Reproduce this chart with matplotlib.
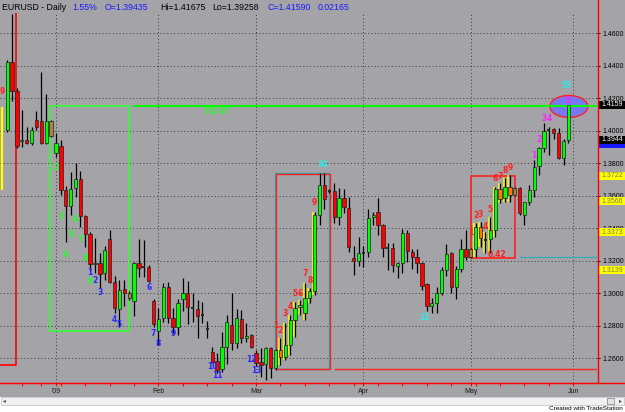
import matplotlib
matplotlib.use("Agg")
import matplotlib.pyplot as plt
from matplotlib.patches import Rectangle, Ellipse
from matplotlib.lines import Line2D

# EURUSD daily, bar 0 = 2 Jan 2009, negative bars = late Dec 2008
bar_idx = list(range(-11, 106))
opens = [1.3650, 1.4003, 1.4421, 1.4243, 1.3935, 1.3942, 1.3923, 1.4065, 1.4058, 1.3923, 1.4058,
         1.3862, 1.3905, 1.3634, 1.3535, 1.3646, 1.3702, 1.3474, 1.3363, 1.3178, 1.3185,
         1.3123, 1.3332, 1.3068, 1.2902, 1.3025, 1.3000, 1.2951, 1.3185, 1.3160, 1.3160,
         1.2951, 1.2766, 1.2846, 1.3037, 1.2846, 1.2791, 1.2963, 1.3000, 1.2905, 1.2902,
         1.2865, 1.2780, 1.2637, 1.2582, 1.2532, 1.2668, 1.2803, 1.2692, 1.2840, 1.2723,
         1.2742, 1.2631, 1.2575, 1.2563, 1.2662, 1.2538, 1.2649, 1.2606, 1.2680, 1.2834,
         1.2914, 1.2877, 1.2969, 1.3012, 1.3480, 1.3665, 1.3628, 1.3628, 1.3468, 1.3585,
         1.3523, 1.3215, 1.3197, 1.3246, 1.3252, 1.3468, 1.3498, 1.3418, 1.3277, 1.3277,
         1.3166, 1.3185, 1.3369, 1.3252, 1.3222, 1.3185, 1.3055, 1.2920, 1.2938, 1.3000,
         1.3142, 1.3246, 1.3037, 1.3148, 1.3271, 1.3222, 1.3271, 1.3406, 1.3326, 1.3332,
         1.3388, 1.3640, 1.3585, 1.3652, 1.3603, 1.3646, 1.3480, 1.3560, 1.3634, 1.3782,
         1.3892, 1.4003, 1.4009, 1.3985, 1.3831, 1.39435]
highs = [1.4145, 1.4434, 1.4720, 1.4260, 1.4126, 1.4022, 1.4022, 1.4120, 1.4360, 1.4225, 1.4062,
         1.3985, 1.3942, 1.3658, 1.3745, 1.3800, 1.3751, 1.3480, 1.3375, 1.3338, 1.3246,
         1.3289, 1.3388, 1.3105, 1.3080, 1.3080, 1.3010, 1.3190, 1.3332, 1.3326, 1.3172,
         1.2963, 1.2908, 1.3062, 1.3068, 1.2908, 1.2963, 1.3092, 1.3074, 1.3000, 1.2957,
         1.2945, 1.2828, 1.2668, 1.2631, 1.2760, 1.2865, 1.3000, 1.2902, 1.2895, 1.2815,
         1.2745, 1.2649, 1.2662, 1.2668, 1.2668, 1.2655, 1.2723, 1.2815, 1.2865, 1.2945,
         1.2957, 1.3062, 1.3031, 1.3498, 1.3738, 1.3738, 1.3640, 1.3677, 1.3646, 1.3640,
         1.3591, 1.3289, 1.3345, 1.3289, 1.3517, 1.3498, 1.3585, 1.3425, 1.3308, 1.3308,
         1.3191, 1.3394, 1.3388, 1.3271, 1.3271, 1.3191, 1.3062, 1.2969, 1.3037, 1.3160,
         1.3302, 1.3252, 1.3166, 1.3332, 1.3388, 1.3280, 1.3431, 1.3437, 1.3375, 1.3468,
         1.3652, 1.3677, 1.3708, 1.3726, 1.3652, 1.3652, 1.3563, 1.3665, 1.3818, 1.3898,
         1.4046, 1.4022, 1.4015, 1.4015, 1.3948, 1.41675]
lows = [1.3634, 1.3991, 1.4182, 1.3895, 1.3898, 1.3917, 1.3911, 1.4003, 1.3917, 1.3917, 1.3962,
        1.3837, 1.3603, 1.3314, 1.3480, 1.3591, 1.3406, 1.3283, 1.3135, 1.3123, 1.3031,
        1.3080, 1.3062, 1.2877, 1.2791, 1.2920, 1.2960, 1.2858, 1.3098, 1.3098, 1.3068,
        1.2791, 1.2680, 1.2822, 1.2815, 1.2748, 1.2742, 1.2889, 1.2809, 1.2822, 1.2723,
        1.2815, 1.2723, 1.2569, 1.2508, 1.2514, 1.2563, 1.2650, 1.2662, 1.2692, 1.2698,
        1.2662, 1.2551, 1.2483, 1.2465, 1.2477, 1.2526, 1.2557, 1.2588, 1.2618, 1.2729,
        1.2865, 1.2834, 1.2938, 1.2988, 1.3418, 1.3517, 1.3615, 1.3431, 1.3418, 1.3492,
        1.3252, 1.3111, 1.3166, 1.3160, 1.3222, 1.3418, 1.3357, 1.3222, 1.3142, 1.3129,
        1.3092, 1.3123, 1.3191, 1.3148, 1.3123, 1.3018, 1.2889, 1.2877, 1.2877, 1.2988,
        1.3105, 1.3000, 1.2963, 1.3129, 1.3203, 1.3215, 1.3222, 1.3283, 1.3246, 1.3246,
        1.3345, 1.3554, 1.3560, 1.3560, 1.3597, 1.3480, 1.3418, 1.3542, 1.3591, 1.3726,
        1.3868, 1.3849, 1.3948, 1.3825, 1.3788, 1.39258]
closes = [1.4010, 1.4421, 1.4243, 1.3905, 1.3942, 1.3923, 1.4003, 1.4022, 1.3923, 1.4058, 1.3966,
          1.3923, 1.3634, 1.3535, 1.3640, 1.3702, 1.3474, 1.3363, 1.3178, 1.3185, 1.3117,
          1.3265, 1.3068, 1.2908, 1.3018, 1.3000, 1.2969, 1.3185, 1.3154, 1.3166, 1.3074,
          1.2809, 1.2840, 1.3037, 1.2846, 1.2791, 1.2938, 1.3000, 1.2914, 1.2908, 1.2858,
          1.2860, 1.2778, 1.2575, 1.2526, 1.2668, 1.2822, 1.2692, 1.2846, 1.2723, 1.2735,
          1.2668, 1.2569, 1.2557, 1.2662, 1.2538, 1.2649, 1.2606, 1.2680, 1.2834, 1.2908,
          1.2926, 1.2969, 1.3012, 1.3480, 1.3665, 1.3579, 1.3630, 1.3468, 1.3585, 1.3529,
          1.3283, 1.3197, 1.3246, 1.3252, 1.3462, 1.3480, 1.3418, 1.3277, 1.3280, 1.3172,
          1.3185, 1.3369, 1.3258, 1.3222, 1.3185, 1.3043, 1.2920, 1.2938, 1.3000, 1.3142,
          1.3240, 1.3037, 1.3148, 1.3271, 1.3222, 1.3271, 1.3406, 1.3338, 1.3332, 1.3388,
          1.3640, 1.3579, 1.3652, 1.3603, 1.3646, 1.3492, 1.3560, 1.3634, 1.3775, 1.3892,
          1.3997, 1.4009, 1.3985, 1.3831, 1.3935, 1.41590]

yellow_bars = [46, 47, 48, 49, 50, 51, 52, 53, 86, 87, 88, 89, 90, 91, 92, 93]
olive_bars = [-1, 15, 85, 94]

month_idx = [0, 21, 41, 63, 85, 106]
month_lbl = ["'09", "Feb", "Mar", "Apr", "May", "Jun"]
week_idx = [-7, -3, 1, 6, 11, 16, 21, 26, 31, 36, 41, 46, 51, 56, 61, 66, 71, 76, 81, 86, 91, 96, 101, 106]
price_ticks = [1.26, 1.28, 1.30, 1.32, 1.34, 1.36, 1.38, 1.40, 1.42, 1.44, 1.46]

# count labels: (bar, price, text)
red_lbl = [(-11, 1.4237, "9"),
           (45, 1.2797, "1"), (46, 1.2772, "2"), (47, 1.2871, "3"), (48, 1.2920, "4"),
           (49, 1.3000, "5"), (50, 1.3000, "6"), (51, 1.3123, "7"), (52, 1.3080, "8"), (53, 1.3554, "9"),
           (85, 1.3375, "1"), (86, 1.3474, "2"), (87, 1.3486, "3"), (88, 1.3412, "4"), (89, 1.3511, "5"),
           (90, 1.3702, "6"), (91, 1.3720, "7"), (92, 1.3751, "8"), (93, 1.3775, "9"), (90.4, 1.3240, "0.42")]
green_lbl = [(0, 1.3775, "2"), (1, 1.3468, "3"), (2, 1.3234, "4"), (3, 1.3357, "5"), (4, 1.3455, "6"),
             (5, 1.3332, "7"), (6, 1.3215, "8"), (7, 1.3068, "9"), (32.8, 1.4120, "TD ST")]
blue_lbl = [(7, 1.3129, "1"), (8, 1.3080, "2"), (9, 1.3006, "3"), (12, 1.2840, "4"), (13, 1.2809, "5"),
            (19, 1.3031, "6"), (20, 1.2748, "7"), (21, 1.2692, "8"), (24, 1.2748, "9"),
            (32, 1.2545, "10"), (33, 1.2495, "11"), (40, 1.2588, "12"), (41, 1.2526, "13")]
magenta_lbl = [(98, 1.3849, "1"), (99, 1.3942, "2"), (100, 1.4071, "3"), (101, 1.4071, "4"), (105, 1.4182, "5")]
cyan_lbl = [(54.6, 1.3788, "34"), (75.6, 1.2852, "21"), (104.7, 1.4274, "55")]

# price boxes on the right scale
dark_boxes = [1.4159, 1.3944]
blue_box = 1.3918
yellow_boxes = [1.3722, 1.3566, 1.3373, 1.3139]

BG = "#a4a4a8"
W, H = 625, 412
fig = plt.figure(figsize=(W / 100, H / 100), dpi=100, facecolor=BG)

def fx(x):
    return x / W

def fy(y):
    return 1 - y / H

ax = fig.add_axes([0, fy(383), fx(597), fy(13) - fy(383)])
ax.set_facecolor(BG)
ax.set_xlim(-11.475, 110.86)
ax.set_ylim(1.24462, 1.47231)

for s in ["top", "left", "right"]:
    ax.spines[s].set_visible(False)
ax.spines["bottom"].set_color("red")

# grid
for p in price_ticks:
    ax.axhline(p, color="#3a3a3a", lw=0.7, ls=(0, (1, 2.5)), zorder=0)
for m in month_idx:
    ax.axvline(m, color="#3a3a3a", lw=0.7, ls=(0, (1, 2.5)), zorder=0)

# studies: boxes and levels
ax.plot([-11.475, -8.1, -8.1], [1.2557, 1.2557, 1.47231], color="red", lw=1.2, zorder=1)
ax.add_patch(Rectangle((-1.13, 1.2766), 16.13, 1.4153 - 1.2766, fill=False, ec="#30ff30", lw=1.2, zorder=1))
ax.plot([16.0, 110.86], [1.4153, 1.4153], color="#00ff00", lw=1.4, zorder=4)
ax.add_patch(Rectangle((44.9, 1.2532), 11.0, 1.3738 - 1.2532, fill=False, ec="#3aa0a8", lw=1.0, zorder=1))
ax.add_patch(Rectangle((45.05, 1.2532), 11.0, 1.3732 - 1.2532, fill=False, ec="#ff2020", lw=1.0, zorder=1))
ax.plot([57.2, 110.86], [1.2532, 1.2532], color="#ff2020", lw=1.0, zorder=1)
ax.add_patch(Rectangle((85.0, 1.3214), 9.1, 1.3722 - 1.3214, fill=False, ec="#ff2020", lw=1.2, zorder=1))
ax.plot([95.1, 110.86], [1.3222, 1.3222], color="#40a8b8", lw=1.0, zorder=1)
ax.add_patch(Ellipse((105.1, 1.4148), 7.8, 0.0135, fc="#7878f0", ec="#ff2020", lw=1.0, zorder=3))

# candles
for i, k in enumerate(bar_idx):
    o, h, l, c = opens[i], highs[i], lows[i], closes[i]
    if k == -11:
        ax.vlines(k, l, h, color="#ffff00", lw=1.6, zorder=2)
        continue
    if k in yellow_bars:
        ax.vlines(k - 0.28, l, h, color="#ffff00", lw=1.1, zorder=1.8)
    ax.vlines(k, l, h, color="black", lw=0.9, zorder=2)
    if k in olive_bars:
        col = "#a8843c"
    elif c >= o:
        col = "#00ff00"
    elif k in yellow_bars:
        col = "#ff7a00"
    else:
        col = "#ff0000"
    lo, hi = min(o, c), max(o, c)
    if hi - lo < 0.0006:
        ax.hlines((o + c) / 2, k - 0.33, k + 0.33, color="#103010", lw=1.3, zorder=5)
    else:
        ax.add_patch(Rectangle((k - 0.34, lo), 0.68, hi - lo, fc=col, ec="#202020", lw=0.5, zorder=5))

# count labels
lbl_font = dict(fontsize=5.5, fontweight="bold", ha="center", va="center", zorder=6,
                family=["DejaVu Sans"])
for color, group in [("#ff2020", red_lbl), ("#22ff22", green_lbl), ("#2828ff", blue_lbl),
                     ("#ff20ff", magenta_lbl), ("#30e8e8", cyan_lbl)]:
    for k, p, t in group:
        ax.text(k, p, t, color=color, **lbl_font)

# axes ticks
ax.set_xticks(month_idx)
ax.set_xticklabels(month_lbl)
ax.set_xticks(week_idx, minor=True)
ax.tick_params(axis="x", which="both", colors="red", length=2.5, width=0.8, pad=1,
               labelsize=5, labelcolor="#1a1a1a")
ax.yaxis.tick_right()
ax.set_yticks(price_ticks)
ax.set_yticklabels(["%.4f" % p for p in price_ticks])
ax.tick_params(axis="y", colors="black", length=2.5, width=0.7, pad=1.5, labelsize=5)
for t in ax.get_yticklabels() + ax.get_xticklabels():
    t.set_family(["Liberation Sans", "DejaVu Sans"])

# right scale price boxes, spanning the scale width
px = (1.47231 - 1.24462) / 370.0
box_h = 8 * px
x_end = 625.0 / 597.0
blend = ax.get_yaxis_transform()

def price_box(p, fc, tc, z, txt=True):
    ax.add_patch(Rectangle((1.002, p - box_h / 2), x_end - 1.002, box_h, transform=blend,
                           fc=fc, ec="none", clip_on=False, zorder=z))
    if txt:
        ax.text(1.0075, p, "%.4f" % p, transform=blend, fontsize=5, color=tc, va="center",
                ha="left", family=["Liberation Sans", "DejaVu Sans"], clip_on=False, zorder=z + 0.5)

price_box(blue_box, "#1818ff", "white", 7, txt=False)
for p in dark_boxes:
    price_box(p, "black", "white", 8)
for p in yellow_boxes:
    price_box(p, "#ffff00", "#7c7c60", 8)

# frame lines
fig.add_artist(Line2D([fx(598), fx(598)], [fy(383), 1], color="red", lw=1.0))
fig.add_artist(Line2D([0, 1], [fy(383), fy(383)], color="red", lw=1.0))

# header
hdr = [(2, "EURUSD - Daily", "black"), (72, "1.55%", "#1a1aff"), (105, "O=1.39435", "#1a1aff"),
       (160, "Hi=1.41675", "black"), (212, "Lo=1.39258", "black"), (267, "C=1.41590", "#1a1aff"),
       (318, "0.02165", "#1a1aff")]
for x, t, c in hdr:
    fig.text(fx(x), fy(7), t, color=c, fontsize=6.3, va="center", ha="left",
             family=["Liberation Sans", "DejaVu Sans"])

# scroll bar and footer
fig.add_artist(Rectangle((0, 0), 1, fy(397), transform=fig.transFigure, fc="white", ec="none"))
fig.add_artist(Rectangle((fx(1), fy(405)), fx(623), fy(397) - fy(405), transform=fig.transFigure,
                         fc="#f0f0f0", ec="#c8c8c8", lw=0.6))
fig.add_artist(Rectangle((fx(607), fy(404)), fx(7), fy(398) - fy(404), transform=fig.transFigure,
                         fc="#e4e4e4", ec="#909090", lw=0.6))
fig.text(fx(4), fy(401), "\u25c2", fontsize=4, va="center", ha="center", color="#404040")
fig.text(fx(620), fy(401), "\u25b8", fontsize=4, va="center", ha="center", color="#404040")
fig.text(fx(623), fy(409), "Created with TradeStation", fontsize=4.6, va="center", ha="right",
         color="black", family=["Liberation Sans", "DejaVu Sans"])

fig.savefig("out.png", dpi=100, facecolor=BG)
